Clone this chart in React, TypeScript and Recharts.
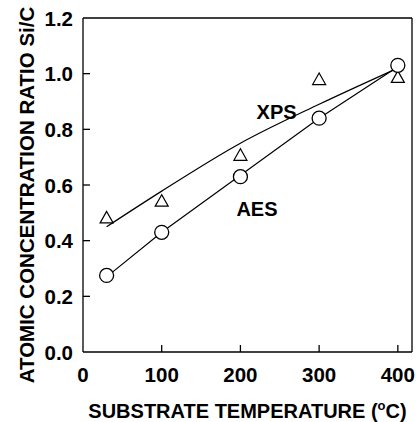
import {
  ComposedChart,
  Line,
  Scatter,
  XAxis,
  YAxis,
  ReferenceDot,
  Label,
} from 'recharts';

// substrate temperature (°C)
const temps = [30, 100, 200, 300, 400];
// measured Si/C ratios
const aesRatio = [0.275, 0.43, 0.63, 0.84, 1.03];
const xpsRatio = [0.48, 0.54, 0.705, 0.977, 0.985];
// fitted curves drawn through the points
const aesFit = [0.27, 0.43, 0.635, 0.84, 1.025];
const xpsFit = [0.45, 0.578, 0.75, 0.89, 1.02];

const xTicks = [0, 100, 200, 300, 400];
const yTicks = [0, 0.2, 0.4, 0.6, 0.8, 1.0, 1.2];

const FONT = '"Liberation Sans", Arial, sans-serif';
const TICK_LEN = 7;

const toRows = (ys: number[]) => temps.map((t, i) => ({ t, v: ys[i] }));

const aesPoints = toRows(aesRatio);
const xpsPoints = toRows(xpsRatio);
const aesLine = toRows(aesFit);
const xpsLine = toRows(xpsFit);

const BottomTick = (props: any) => {
  const { x, y, payload } = props;
  const v = payload.value;
  return (
    <g>
      {v !== 0 && <line x1={x} y1={y} x2={x} y2={y - TICK_LEN} stroke="#000" strokeWidth={1.3} />}
      <text x={x} y={y + 30} textAnchor="middle" fontFamily={FONT} fontWeight="bold" fontSize={20.5} fill="#000">
        {v}
      </text>
    </g>
  );
};

const TopTick = (props: any) => {
  const { x, y, payload } = props;
  if (payload.value === 0) return <g />;
  return <line x1={x} y1={y} x2={x} y2={y + TICK_LEN} stroke="#000" strokeWidth={1.3} />;
};

const LeftTick = (props: any) => {
  const { x, y, payload } = props;
  const v = payload.value;
  const inner = v > 0.01 && v < 1.19;
  return (
    <g>
      {inner && <line x1={x} y1={y} x2={x + TICK_LEN} y2={y} stroke="#000" strokeWidth={1.3} />}
      <text x={x - 10} y={y} dy={7.5} textAnchor="end" fontFamily={FONT} fontWeight="bold" fontSize={20.5} fill="#000">
        {v.toFixed(1)}
      </text>
    </g>
  );
};

const RightTick = (props: any) => {
  const { x, y, payload } = props;
  const v = payload.value;
  if (!(v > 0.01 && v < 1.19)) return <g />;
  return <line x1={x} y1={y} x2={x - TICK_LEN} y2={y} stroke="#000" strokeWidth={1.3} />;
};

const Circle = (props: any) => (
  <circle cx={props.cx} cy={props.cy} r={7} fill="#fff" stroke="#000" strokeWidth={1.3} />
);

const Triangle = (props: any) => {
  const { cx, cy } = props;
  const pts = `${cx},${cy - 7} ${cx - 6.5},${cy + 4.5} ${cx + 6.5},${cy + 4.5}`;
  return <polygon points={pts} fill="#fff" stroke="#000" strokeWidth={1.2} />;
};

const labelStyle = { fontFamily: FONT, fontWeight: 'bold', fontSize: 20, fill: '#000' };

export default function App() {
  return (
    <div style={{ position: 'absolute', left: 0, top: 0 }}>
      <ComposedChart width={416} height={422} margin={{ top: 0, right: 0, bottom: 0, left: 0 }}>
        <XAxis
          dataKey="t"
          type="number"
          domain={[0, 418]}
          ticks={xTicks}
          height={70}
          tickSize={0}
          tickMargin={0}
          tickLine={false}
          tick={<BottomTick />}
          axisLine={{ stroke: '#000', strokeWidth: 1.3 }}
          interval={0}
        >
          <Label
            content={(p: any) => {
              const vb = p.viewBox;
              return (
                <text x={vb.x + vb.width / 2} y={vb.y + 66} textAnchor="middle" {...labelStyle}>
                  SUBSTRATE TEMPERATURE (
                  <tspan fontSize={13} dy={-8}>o</tspan>
                  <tspan dy={8}>C)</tspan>
                </text>
              );
            }}
          />
        </XAxis>
        <XAxis
          xAxisId="top"
          dataKey="t"
          type="number"
          orientation="top"
          domain={[0, 418]}
          ticks={xTicks}
          height={18}
          tickSize={0}
          tickMargin={0}
          tickLine={false}
          tick={<TopTick />}
          axisLine={{ stroke: '#000', strokeWidth: 1.3 }}
          interval={0}
        />
        <YAxis
          type="number"
          domain={[0, 1.2]}
          ticks={yTicks}
          width={83}
          tickSize={0}
          tickMargin={0}
          tickLine={false}
          tick={<LeftTick />}
          axisLine={{ stroke: '#000', strokeWidth: 1.3 }}
          interval={0}
        >
          <Label
            content={(p: any) => {
              const vb = p.viewBox;
              const cx = vb.x + 26;
              const cy = vb.y + vb.height / 2 + 10;
              return (
                <text
                  x={cx}
                  y={cy}
                  transform={`rotate(-90 ${cx} ${cy})`}
                  textAnchor="middle"
                  dominantBaseline="central"
                  {...labelStyle}
                  fontSize={20.5}
                >
                  ATOMIC CONCENTRATION RATIO Si/C
                </text>
              );
            }}
          />
        </YAxis>
        <YAxis
          yAxisId="right"
          orientation="right"
          type="number"
          domain={[0, 1.2]}
          ticks={yTicks}
          width={4}
          tickSize={0}
          tickMargin={0}
          tickLine={false}
          tick={<RightTick />}
          axisLine={{ stroke: '#000', strokeWidth: 1.3 }}
          interval={0}
        />
        <Line data={xpsLine} dataKey="v" type="monotone" stroke="#000" strokeWidth={1.2} dot={false} isAnimationActive={false} />
        <Line data={aesLine} dataKey="v" type="linear" stroke="#000" strokeWidth={1.2} dot={false} isAnimationActive={false} />
        <Scatter data={xpsPoints} dataKey="v" shape={<Triangle />} isAnimationActive={false} />
        <Scatter data={aesPoints} dataKey="v" shape={<Circle />} isAnimationActive={false} />
        <ReferenceDot x={246} y={0.862} r={0} fill="none" stroke="none" label={{ value: 'XPS', position: 'center', ...labelStyle }} />
        <ReferenceDot x={221} y={0.514} r={0} fill="none" stroke="none" label={{ value: 'AES', position: 'center', ...labelStyle }} />
      </ComposedChart>
    </div>
  );
}
